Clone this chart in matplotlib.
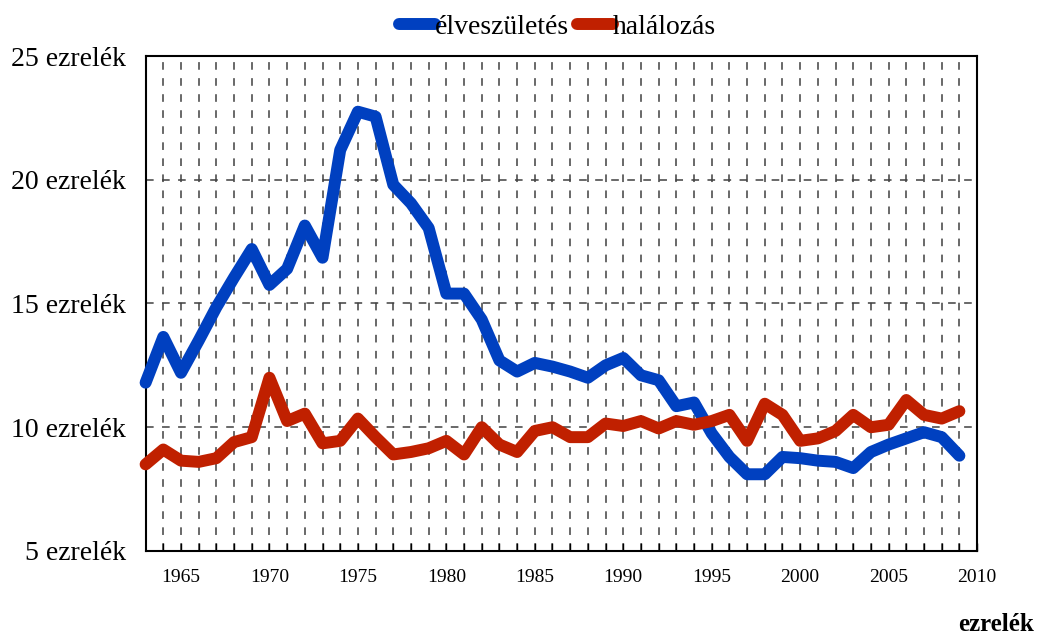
import matplotlib
matplotlib.use("Agg")
import matplotlib.pyplot as plt

plt.rcParams["font.family"] = ["Liberation Serif", "DejaVu Serif"]

years = list(range(1963, 2010))

# élveszületés (ezrelék)
births = [11.8, 13.65, 12.2, 13.5, 14.85, 16.05, 17.2, 15.75, 16.4, 18.15,
          16.85, 21.2, 22.75, 22.55, 19.8, 19.05, 18.05, 15.4, 15.4, 14.35,
          12.7, 12.25, 12.6, 12.45, 12.25, 12.0, 12.5, 12.8, 12.1, 11.9,
          10.85, 11.0, 9.75, 8.8, 8.1, 8.1, 8.8, 8.75, 8.65, 8.6,
          8.35, 9.0, 9.3, 9.55, 9.8, 9.6, 8.85]

# halálozás (ezrelék)
deaths = [8.5, 9.1, 8.65, 8.6, 8.75, 9.4, 9.6, 12.0, 10.25, 10.55,
          9.35, 9.45, 10.35, 9.6, 8.9, 9.0, 9.15, 9.45, 8.9, 10.0,
          9.3, 9.0, 9.85, 10.0, 9.6, 9.6, 10.15, 10.05, 10.25, 9.95,
          10.25, 10.1, 10.25, 10.5, 9.45, 10.95, 10.5, 9.45, 9.55, 9.85,
          10.5, 10.0, 10.1, 11.1, 10.5, 10.35, 10.65]

y_ticks = [5, 10, 15, 20, 25]
x_label_years = [1965, 1970, 1975, 1980, 1985, 1990, 1995, 2000, 2005, 2010]

fig = plt.figure(figsize=(10.4, 6.35), dpi=100)
ax = fig.add_axes([0.140, 0.1323, 0.7995, 0.7795])

lw = 8.6
ax.plot(years, births, color="#0040C0", lw=lw, solid_capstyle="round",
        solid_joinstyle="round", label="élveszületés", zorder=3, clip_on=False)
ax.plot(years, deaths, color="#C02000", lw=lw, solid_capstyle="round",
        solid_joinstyle="round", label="halálozás", zorder=3, clip_on=False)

ax.set_xlim(1963, 2010)
ax.set_ylim(5, 25)

# every year gets a dashed gridline, labels only every 5 years
all_ticks = list(range(1964, 2011))
ax.set_xticks(all_ticks)
ax.set_xticklabels([str(y) if y in x_label_years else "" for y in all_ticks])
ax.set_yticks(y_ticks)
ax.set_yticklabels(["%d ezrelék" % v for v in y_ticks])

ax.tick_params(axis="x", direction="in", length=6, width=1, pad=13, labelsize=14)
ax.tick_params(axis="y", length=0, pad=14, labelsize=20)

ax.grid(True, color="#404040", lw=1.1, linestyle=(0, (5, 5.5)), zorder=1)
for s in ax.spines.values():
    s.set_linewidth(1.5)
    s.set_color("black")

fig.legend(loc="center", bbox_to_anchor=(0.536, 0.957), ncol=2, frameon=False,
           fontsize=20, handlelength=1.3, handletextpad=0.0, columnspacing=0.3,
           borderaxespad=0)

fig.text(0.994, 0.006, "ezrelék", ha="right", va="baseline", fontsize=18,
         fontweight="bold")

fig.savefig("out.png", dpi=100)
